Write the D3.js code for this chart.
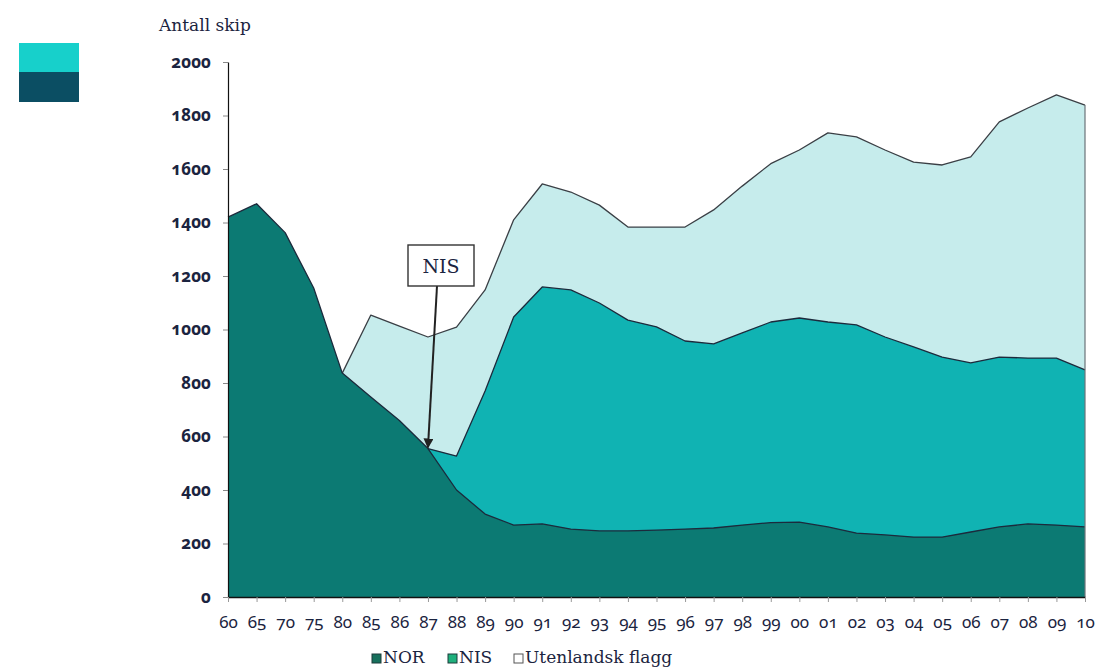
<!DOCTYPE html>
<html>
<head>
<meta charset="utf-8">
<script src="https://cdn.jsdelivr.net/npm/d3@7"></script>
<style>
  html, body { margin: 0; padding: 0; background: #ffffff; }
  svg { display: block; }
  .num { font-family: "Noto Sans", sans-serif; font-variant-numeric: oldstyle-nums; font-feature-settings: "onum" 1; }
  .serif { font-family: "DejaVu Serif", "Liberation Serif", serif; }
</style>
</head>
<body>
<svg id="chart" width="1098" height="668"></svg>
<script>
// Years on the x axis (two-digit labels)
const years = ["60","65","70","75","80","85","86","87","88","89","90","91","92","93","94","95","96","97","98","99","00","01","02","03","04","05","06","07","08","09","10"];

// Number of ships per register
const norShips = [1420,1470,1362,1155,837,748,660,555,400,310,269,273,254,247,247,250,254,258,269,278,280,262,239,232,224,224,243,262,273,269,262];
const nisShips = [null,null,null,null,null,null,null,0,127,460,778,886,894,852,788,760,703,688,718,750,763,766,778,740,711,673,632,635,620,624,587];
const foreignShips = [null,null,null,null,0,306,353,417,482,378,363,385,366,366,348,373,426,501,549,592,628,707,703,699,691,718,770,879,935,984,990];

const yTicks = [0,200,400,600,800,1000,1200,1400,1600,1800,2000];

const seriesNames = ["NOR", "NIS", "Utenlandsk flagg"];
const seriesColors = ["#0c7a73", "#10b3b3", "#c6ecec"];
const legendSwatches = ["#17705c", "#1fb07c", "#ffffff"];

const svg = d3.select("#chart");
const ink = "#1b2440";
const edge = "#1c2a3c";

const x = d3.scalePoint().domain(years).range([228, 1085]);
const y = d3.scaleLinear().domain([0, 2000]).range([597, 62]);

// Cumulative tops of each layer
const rows = years.map((yr, i) => {
  const nor = norShips[i];
  const nisTop = nor + (nisShips[i] || 0);
  const total = nisTop + (foreignShips[i] || 0);
  return { yr, nor, nisTop, total, hasNis: nisShips[i] !== null, hasForeign: foreignShips[i] !== null };
});

// Decorative colour blocks in the upper left corner
svg.append("rect").attr("x", 19).attr("y", 43).attr("width", 60).attr("height", 30).attr("fill", "#17d0cb");
svg.append("rect").attr("x", 19).attr("y", 72).attr("width", 60).attr("height", 30).attr("fill", "#0b4e63");

// Each layer is filled from the baseline up to its cumulative top,
// then covered by the layers beneath it.
const areaTo = (key, defined) => d3.area()
  .defined(defined)
  .x(d => x(d.yr)).y0(y(0)).y1(d => y(d[key]))
  .curve(d3.curveLinear);
const lineTo = (key, defined) => d3.line()
  .defined(defined)
  .x(d => x(d.yr)).y(d => y(d[key]))
  .curve(d3.curveLinear);

const layers = [
  { key: "total", defined: d => d.hasForeign, fill: seriesColors[2], stroke: "#3a3f45" },
  { key: "nisTop", defined: d => d.hasNis, fill: seriesColors[1], stroke: edge },
  { key: "nor", defined: () => true, fill: seriesColors[0], stroke: edge }
];

const plot = svg.append("g");
layers.forEach(l => {
  plot.append("path").datum(rows).attr("d", areaTo(l.key, l.defined)).attr("fill", l.fill);
});
layers.forEach(l => {
  plot.append("path").datum(rows).attr("d", lineTo(l.key, l.defined))
    .attr("fill", "none").attr("stroke", l.stroke).attr("stroke-width", 1.3)
    .attr("stroke-linejoin", "round");
});

// Right edge of the stacked areas
const last = rows[rows.length - 1];
plot.append("line")
  .attr("x1", x(last.yr)).attr("x2", x(last.yr))
  .attr("y1", y(last.total)).attr("y2", y(0))
  .attr("stroke", "#6b7378").attr("stroke-width", 1.2);

// Axes
const yAxis = svg.append("g")
  .attr("transform", `translate(${x(years[0])},0)`)
  .call(d3.axisLeft(y).tickValues(yTicks).tickSize(5).tickSizeOuter(0).tickPadding(12).tickFormat(d3.format("d")));
yAxis.select(".domain").attr("stroke", "#111").attr("stroke-width", 1.2);
yAxis.selectAll(".tick line").attr("stroke", "#888");
yAxis.selectAll("text")
  .attr("class", "num")
  .attr("font-size", 17).attr("font-weight", 700).attr("fill", ink);

const xAxis = svg.append("g")
  .attr("transform", `translate(0,${y(0)})`)
  .call(d3.axisBottom(x).tickSize(5).tickSizeOuter(0).tickPadding(14));
xAxis.select(".domain").attr("stroke", "#111").attr("stroke-width", 1.5);
xAxis.selectAll(".tick line").attr("stroke", "#999");
xAxis.selectAll("text")
  .attr("class", "num")
  .attr("font-size", 17).attr("fill", ink);

// Axis title
svg.append("text").attr("class", "serif")
  .attr("x", 159).attr("y", 31)
  .attr("font-size", 17).attr("fill", ink)
  .text("Antall skip");

// Annotation marking the start of the NIS register
const nisStart = rows[years.indexOf("87")];
const tipX = x(nisStart.yr), tipY = y(nisStart.nor);
svg.append("defs").append("marker")
  .attr("id", "arrowhead").attr("viewBox", "0 0 10 10")
  .attr("refX", 9).attr("refY", 5)
  .attr("markerWidth", 5).attr("markerHeight", 5)
  .attr("orient", "auto")
  .append("path").attr("d", "M0,0 L10,5 L0,10 z").attr("fill", "#222");
svg.append("line")
  .attr("x1", 437).attr("y1", 286)
  .attr("x2", tipX).attr("y2", tipY - 1)
  .attr("stroke", "#222").attr("stroke-width", 2)
  .attr("marker-end", "url(#arrowhead)");
svg.append("rect")
  .attr("x", 408).attr("y", 245).attr("width", 66).attr("height", 41)
  .attr("fill", "#ffffff").attr("stroke", "#333").attr("stroke-width", 1.4);
svg.append("text").attr("class", "serif")
  .attr("x", 441).attr("y", 273).attr("text-anchor", "middle")
  .attr("font-size", 19).attr("fill", ink)
  .text("NIS");

// Legend
const legendX = [372, 448, 514];
const legend = svg.append("g");
seriesNames.forEach((name, i) => {
  legend.append("rect")
    .attr("x", legendX[i]).attr("y", 654).attr("width", 9).attr("height", 9)
    .attr("fill", legendSwatches[i])
    .attr("stroke", i === 2 ? "#555" : "#1d3b3a").attr("stroke-width", 1);
  legend.append("text").attr("class", "serif")
    .attr("x", legendX[i] + 11).attr("y", 663)
    .attr("font-size", 17).attr("fill", ink)
    .text(name);
});
</script>
</body>
</html>
